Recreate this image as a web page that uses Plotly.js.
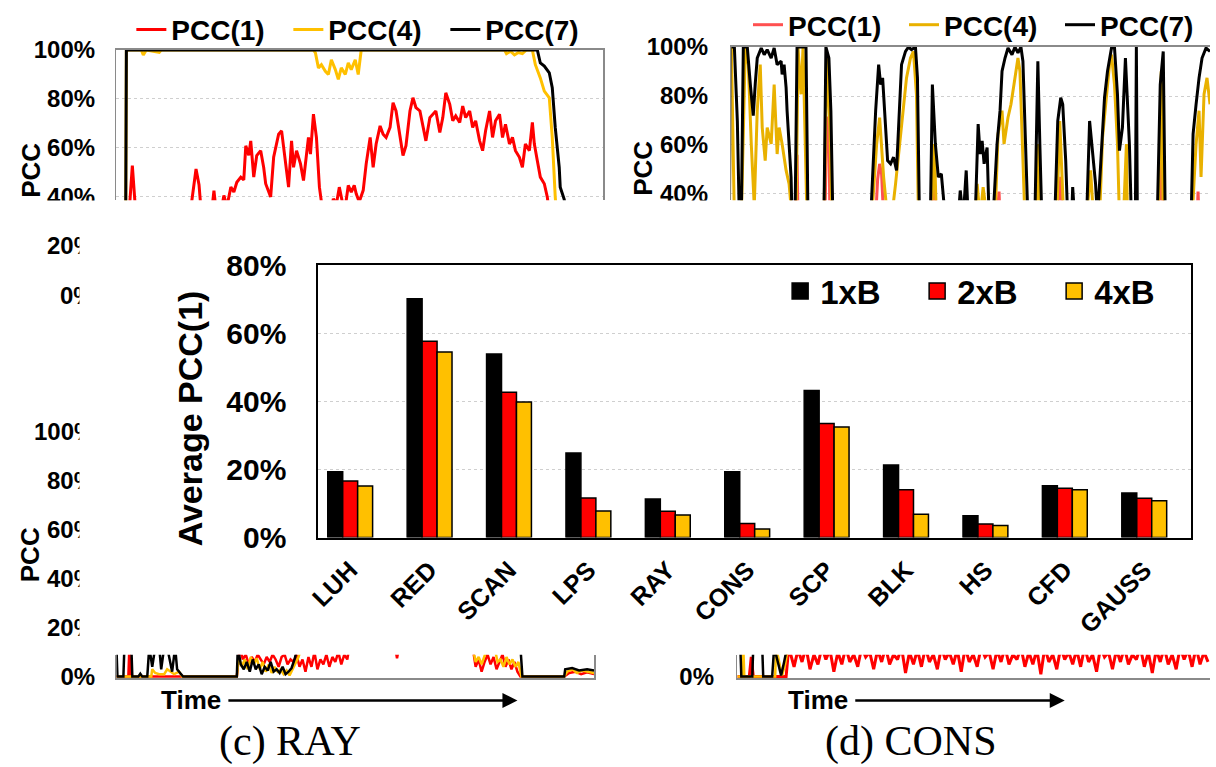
<!DOCTYPE html>
<html><head><meta charset="utf-8">
<script src="https://cdn.plot.ly/plotly-3.0.1.min.js"></script>
<style>html,body{margin:0;padding:0;background:#fff}#chart{width:1216px;height:767px}</style>
</head><body><div id="chart"></div>
<script>
// ---------- main bar chart data ----------
const categories = ['LUH','RED','SCAN','LPS','RAY','CONS','SCP','BLK','HS','CFD','GAUSS'];
const avgPcc1xB = [19.3, 70.2, 53.9, 24.8, 11.3, 19.3, 43.2, 21.3, 6.4, 15.2, 13.1];
const avgPcc2xB = [16.6, 57.7, 42.7, 11.6, 7.7, 4.1, 33.5, 14.0, 4.0, 14.5, 11.5];
const avgPcc4xB = [15.1, 54.5, 39.8, 7.8, 6.6, 2.5, 32.5, 6.8, 3.5, 14.0, 10.8];
const barSeriesNames = ['1xB','2xB','4xB'];
const lineSeriesNames = ['PCC(1)','PCC(4)','PCC(7)'];
const panelTickLabels = ['100%','80%','60%','40%','20%','0%'];

// ---------- background panel (top-left), time samples ----------
const tlTime7 = [0,9,10,423,426,430,435,438,441,445,446,450,460];
const tlPcc7  = [0,0,100,100,94.7,93.4,90.7,84.6,68.4,52.1,44,39,5];
const tlTime4 = [9,10,25,27,30,43,45,198,200,203,206,210,213,216,220,223,226,230,233,236,240,243,246,390,392,396,400,404,408,412,418,421,426,430,435,438,441,445,460];
const tlPcc4  = [0,100,100,98,100,99,100,100,98.8,92.7,94,91.3,90,96,92,88,92.7,90,94.7,92,96,90,100,100,98.5,99.5,98,99,98.5,100,100,94,88.6,83.2,80.5,64.3,40,20,0];
const tlTime1 = [0,13,16,18,20,73,80,83,85,96,98,100,106,108,111,115,118,121,125,128,130,133,135,138,141,145,148,150,155,158,163,166,170,173,176,178,181,185,188,191,193,195,198,201,204,207,216,218,221,224,227,230,233,236,239,241,244,248,251,255,258,261,265,268,271,275,278,281,285,288,291,295,298,301,305,308,311,315,318,321,325,328,331,335,338,341,345,348,351,355,358,361,365,368,371,375,378,381,385,388,391,395,398,401,405,408,411,415,418,420,423,426,430,433,436,443];
const tlPcc1  = [30,35,52.8,40,30,30,51.4,45,35,35,42.6,35,36,40.6,36,44,42,46,48.1,47,60.9,57,62.9,48.1,56.9,58.9,52,45.4,40,56.2,65.6,67,53.5,44,62.9,52.1,58.9,53.5,46.7,57.5,64.3,57.5,73.8,64.3,44,35,35,39.3,37,44,38,36,44.7,42,44.7,41.3,38,42.7,53.5,64.3,52.1,61.6,69,65.6,64.3,68.4,78.5,75.1,64.3,56.9,60.9,75.1,80.5,76.5,75.1,68.4,62.9,72.4,73.8,75.1,66.3,72.4,82.5,77.8,71.1,73.1,70.4,77.1,72.4,75.1,68.4,71.1,62.9,58.9,67,75.1,64.3,71.1,73.8,64.3,69.7,61.6,64.3,58.9,56.2,52.1,61.6,58.9,70.4,61.6,54.8,48.1,45.4,40,30,20];

// ---------- background panel (top-right) ----------
const trTime7 = [-2,-1,3,6,8,10,12,16,19,22,24,26,30,33,36,40,43,46,50,51,53,55,56,58,60,61,64,66,75,77,93,95,98,100,102,140,145,148,150,152,155,157,160,163,166,168,171,175,178,181,185,187,189,200,202,205,208,211,215,228,230,233,236,238,245,248,250,252,254,257,259,263,267,270,272,275,278,282,285,288,291,293,296,298,305,308,310,312,325,328,331,333,336,338,342,343,345,357,360,362,366,368,372,375,378,382,385,388,390,393,396,398,400,402,406,407,408,428,431,434,436,462,464,467,470,473,477,481];
const trPcc7  = [30,100,100,69.8,30,30,100,100,85,72,85,95.5,99.6,96.9,98.9,95.5,99.6,92.8,94.2,88.8,92.8,83.4,73.9,60.4,46.9,30,30,100,100,30,30,100,95.5,74,30,30,74,92.8,84.7,87.4,67.1,53.6,52.3,55,49.6,65.8,92.8,98.2,100,98.9,100,87.4,30,30,84.7,60.4,46.9,48.2,30,30,41.4,30,49.6,30,30,68.5,56.3,61.7,52.3,59,30,30,60.4,74,90.1,95.5,99.6,96.9,100,97.6,100,94.2,53.6,30,30,94.2,60.4,30,30,69.8,79.3,76.6,53.6,30,30,42.8,30,30,69.8,60.4,44.1,30,60.4,79.3,90.1,99.6,100,80.7,57.7,67.1,95.5,80.7,60.4,30,30,100,30,30,84.7,98.2,30,30,64.4,76.6,87.4,95.5,99.6,98.2];
const trTime4 = [-2,0,3,10,14,17,20,23,26,29,31,34,36,40,43,46,48,51,55,58,61,65,67,70,72,76,93,96,99,101,141,146,149,153,157,161,165,169,173,176,180,183,186,188,201,204,206,245,247,250,253,257,265,268,272,274,278,281,284,288,290,292,295,307,308,310,327,330,332,334,357,361,364,370,373,377,380,382,385,388,390,394,397,398,429,432,434,463,467,470,472,475,478,481];
const trPcc4  = [30,100,30,30,99.6,92.8,60.4,35,74,92.8,67.1,53.6,67.1,60.4,84.7,56.3,67.1,60.4,49.6,44.1,30,30,99.6,80.7,99.6,30,30,96.9,67.1,30,30,60.4,71.2,46.9,30,30,44.1,60.4,74,87.4,95.5,98.2,80.7,30,30,60.4,30,30,44.1,30,42.8,30,30,64.4,74,60.4,71.2,76.6,84.7,95.5,90.1,67.1,30,30,60.4,30,30,69.8,46.9,30,30,49.6,30,30,63,80.7,92.8,96.9,84.7,60.4,30,30,60.4,30,30,90.1,30,30,60.4,74,46.9,80.7,87.4,76.6];
const trTime1 = [64,66,67,94,96,98,99,145,147,149,151,153,202,204,206,267,269,270,329,331,332,430,432,433,434,468,469,470];
const trPcc1  = [30,56,30,30,71,71,30,30,46,52.3,48,30,30,44,30,30,41,30,30,47,30,30,57.7,50,30,30,41,30];

// ---------- bottom strip (c) RAY ----------
const rayTime7 = [0,1,7,8,15,16,22,24,26,31,33,36,39,43,45,48,51,54,56,59,61,64,67,121,122,125,128,131,134,137,140,143,146,149,152,155,158,161,164,167,170,173,176,179,182,406,408,450,451,458,465,473,480];
const rayPcc7  = [12,0,0,12,12,0,0,1.2,0,0,12,4,12,12,3,12,12,5,2,12,3,1.5,0,0,12,5,3,6,2,7,3,5,1,4,2.5,6,2,3,1.5,4,1,2,3.5,7,12,12,0,0,3,3.5,2.5,3,2.5];
const rayTime4 = [0,35,36,39,43,48,51,55,58,63,66,121,123,126,129,132,135,138,141,144,147,150,153,156,159,162,165,168,171,174,177,180,183,186,358,361,364,367,370,373,380,383,386,389,392,395,398,401,404,407,450,453,458,463,468,473,480];
const rayPcc4  = [0,0,3,1.5,1,1,3,2,1,2,0,0,8,4,7,3,8,5,7.5,3,6,2,5,1.5,4,2,3,1,2.5,0.5,3,5,8,12,12,6,8,5,7.5,12,12,6,7,4,8,5,7,4,6,0,0,2,3,1.5,2.5,2,1.5];
const rayTime1 = [0,12,13,14,121,124,127,130,133,136,139,142,145,148,151,154,157,160,163,166,169,172,175,178,181,184,187,190,193,196,199,202,205,208,211,214,217,220,223,226,229,232,234,280,282,284,358,361,364,367,370,373,376,379,382,385,388,391,394,397,400,403,406,450,455,461,467,473,480];
const rayPcc1  = [0,0,12,0,0,12,7,9,5,8,6,9,7,5,8,6,9,7,4,8,9,5,7,6,9,4,7,2,8,4,10,3,7,5,9,4,8,6,10,5,9,7,12,12,7.5,12,12,4,7,2,6,9,5,8,3,6,9,4,7,3,6,2,0,0,1.5,2,1,1.8,1];

// ---------- bottom strip (d) CONS ----------
const consTime7 = [0,3,4,15,16,25,26,35,37,41,44,47,50,475];
const consPcc7  = [12,12,0,0,12,12,0,0,12,5,0.5,6,12,12];
const consTime4 = [0,5,6,7,38,39,43,45,48,51,475];
const consPcc4  = [0,0,12,0,0,12,4,0.5,5,12,12];
const consTime1 = [0,12,14,16,49,51,53,57,61,65,69,73,77,81,85,89,93,97,101,105,109,113,117,121,125,129,133,137,141,145,149,153,157,161,165,169,173,177,181,185,189,193,197,201,205,209,213,217,221,225,229,233,237,241,245,249,253,257,261,265,269,273,277,281,285,289,293,297,301,305,309,313,317,321,325,329,333,337,341,345,349,353,357,361,365,369,373,377,381,385,389,393,397,401,405,409,413,417,421,425,429,433,437,441,445,449,453,457,461,465,469,473];
const consPcc1  = [0,0,8,0,0,9,
  10,4,11,6,12,3,9,5,12,7, 11,2,10,5,12,6,9,4,12,8, 10,3,11,6,12,5,9,7,12,1.5, 10,5,11,4,12,6,9,3,12,7,
  10,5,11,2,12,6,9,4,12,8, 10,3,11,6,12,5,9,7,12,4, 10,5,11,1,12,6,9,3,12,7, 10,5,11,4,12,6,9,2,12,8,
  10,3,11,6,12,5,9,7,12,4, 10,1.5,11,6,12,5,9,3,12,7, 11,4,12,5,10,6];

// ---------- styling ----------
const W = 1216, H = 767;
const fx = p => p / W;
const fy = p => 1 - p / H;
const SANS = 'Liberation Sans, Arial, sans-serif';
const SERIF = 'Liberation Serif, Times New Roman, serif';
const bold = (size) => ({family: SANS, size: size, color: '#000', weight: 'bold'});
const RED = '#ff0000', GOLD = '#ffc000', BLACK = '#000000';
const RED_B = '#ff5050', GOLD_B = '#e9b100';

const traces = [];
function lineTrace(x, y, color, width, xa, ya, name, legend, show) {
  return {type: 'scatter', mode: 'lines', x: x, y: y, xaxis: xa, yaxis: ya,
    name: name, legend: legend, showlegend: show, hoverinfo: 'skip',
    line: {color: color, width: width}};
}
// top-left panel
traces.push(lineTrace(tlTime1, tlPcc1, RED, 3, 'x2', 'y2', lineSeriesNames[0], 'legend2', true));
traces.push(lineTrace(tlTime4, tlPcc4, GOLD, 3, 'x2', 'y2', lineSeriesNames[1], 'legend2', true));
traces.push(lineTrace(tlTime7, tlPcc7, BLACK, 3, 'x2', 'y2', lineSeriesNames[2], 'legend2', true));
// top-right panel
traces.push(lineTrace(trTime1, trPcc1, RED_B, 3, 'x3', 'y3', lineSeriesNames[0], 'legend3', true));
traces.push(lineTrace(trTime4, trPcc4, GOLD_B, 3, 'x3', 'y3', lineSeriesNames[1], 'legend3', true));
traces.push(lineTrace(trTime7, trPcc7, BLACK, 3, 'x3', 'y3', lineSeriesNames[2], 'legend3', true));
// strip (c)
traces.push(lineTrace(rayTime1, rayPcc1, RED, 2.5, 'x4', 'y4', lineSeriesNames[0], 'legend2', false));
traces.push(lineTrace(rayTime4, rayPcc4, GOLD, 2.5, 'x4', 'y4', lineSeriesNames[1], 'legend2', false));
traces.push(lineTrace(rayTime7, rayPcc7, BLACK, 2.5, 'x4', 'y4', lineSeriesNames[2], 'legend2', false));
// strip (d)
traces.push(lineTrace(consTime1, consPcc1, RED, 3, 'x5', 'y5', lineSeriesNames[0], 'legend2', false));
traces.push(lineTrace(consTime4, consPcc4, GOLD, 2.5, 'x5', 'y5', lineSeriesNames[1], 'legend2', false));
traces.push(lineTrace(consTime7, consPcc7, BLACK, 2.5, 'x5', 'y5', lineSeriesNames[2], 'legend2', false));

// main bars
const barValues = [avgPcc1xB, avgPcc2xB, avgPcc4xB];
const barColors = [BLACK, RED, GOLD];
barValues.forEach((vals, i) => {
  traces.push({type: 'bar', x: categories, y: vals, name: barSeriesNames[i],
    xaxis: 'x', yaxis: 'y', showlegend: false, hoverinfo: 'skip',
    marker: {color: barColors[i], line: {color: '#000', width: 1.5}}});
});
// legend entries for the bars (bigger squares)
barSeriesNames.forEach((n, i) => {
  traces.push({type: 'scatter', mode: 'markers', x: [null], y: [null], name: n,
    xaxis: 'x', yaxis: 'y', legend: 'legend', showlegend: true, hoverinfo: 'skip',
    marker: {symbol: 'square', size: 16, color: barColors[i], line: {color: '#000', width: 1.5}}});
});

const GRID = '#cfcfcf', FRAME = '#8a8a8a';
const annotations = [];
function txt(text, xp, yp, size, opts) {
  annotations.push(Object.assign({text: text, x: fx(xp), y: fy(yp), xref: 'paper', yref: 'paper',
    showarrow: false, font: bold(size), xanchor: 'center', yanchor: 'middle'}, opts || {}));
}
// main chart y title
txt('Average PCC(1)', 191, 416, 34, {textangle: -90});
// y titles of background panels
txt('PCC', 31, 166, 26, {textangle: -90});
txt('PCC', 646, 164, 26, {textangle: -90});
txt('PCC', 31, 553, 26, {textangle: -90});
// partially hidden tick labels (left side)
txt(panelTickLabels[4], 97, 242, 24, {xanchor: 'right'});
txt(panelTickLabels[5], 97, 292, 24, {xanchor: 'right'});
[429.5, 478.8, 528.1, 577.4, 626.7].forEach((yp, i) => txt(panelTickLabels[i], 97, yp, 24, {xanchor: 'right'}));
// white covers (the pasted bar chart hides these)
function cover(x0, y0, x1, y1) {
  annotations.push({text: ' ', x: fx(x0), y: fy(y0), xref: 'paper', yref: 'paper', xanchor: 'left', yanchor: 'top',
    width: x1 - x0, height: y1 - y0, bgcolor: '#ffffff', borderpad: 0, showarrow: false, font: {size: 2}});
}
cover(40, 196.5, 112, 216);
cover(79, 216, 112, 652);
cover(640, 196.5, 730, 214);
// time arrows
txt('Time', 160, 700, 26, {xanchor: 'left'});
txt('Time', 790, 700, 26, {xanchor: 'left'});
function arrow(x0, x1, yp) {
  annotations.push({text: '', x: fx(x1), y: fy(yp), ax: fx(x0), ay: fy(yp), xref: 'paper', yref: 'paper',
    axref: 'paper', ayref: 'paper', showarrow: true, arrowhead: 2, arrowsize: 1.2, arrowwidth: 2.5, arrowcolor: '#000'});
}
arrow(228, 520, 700);
arrow(858, 1070, 700);
// captions
annotations.push({text: '(c) RAY', x: fx(291), y: fy(741), xref: 'paper', yref: 'paper', showarrow: false,
  xanchor: 'center', yanchor: 'middle', font: {family: SERIF, size: 42, color: '#000'}});
annotations.push({text: '(d) CONS', x: fx(916), y: fy(741), xref: 'paper', yref: 'paper', showarrow: false,
  xanchor: 'center', yanchor: 'middle', font: {family: SERIF, size: 42, color: '#000'}});

const layout = {
  width: W, height: H, margin: {l: 0, r: 0, t: 0, b: 0},
  paper_bgcolor: '#ffffff', plot_bgcolor: 'rgba(0,0,0,0)',
  barmode: 'group', bargap: 0.435, bargroupgap: 0,
  font: {family: SANS, color: '#000'},
  xaxis: {domain: [fx(320), fx(1197)], anchor: 'y', type: 'category', range: [-0.4, 10.59],
    showline: true, mirror: true, linecolor: '#000', linewidth: 2, ticks: '', showgrid: false,
    tickangle: -45, tickfont: bold(25), ticklabelstandoff: 6},
  yaxis: {domain: [fy(536), fy(262)], anchor: 'x', range: [0, 80], dtick: 20, ticksuffix: '%',
    showline: true, mirror: true, linecolor: '#000', linewidth: 2, ticks: '', zeroline: false,
    gridcolor: GRID, griddash: 'dot', gridwidth: 1.3, tickfont: bold(30), ticklabelstandoff: 24},
  xaxis2: {domain: [fx(117), fx(606)], anchor: 'y2', range: [0, 489], side: 'top', showline: true,
    linecolor: FRAME, linewidth: 2, showticklabels: false, ticks: '', showgrid: false, zeroline: false},
  yaxis2: {domain: [fy(196.5), fy(45.3)], anchor: 'x2', range: [38.66, 100], dtick: 20, tick0: 0, ticksuffix: '%',
    showline: true, mirror: true, linecolor: FRAME, linewidth: 1.5, ticks: '', zeroline: false,
    gridcolor: GRID, griddash: 'dot', tickfont: bold(24), ticklabelstandoff: 15},
  xaxis3: {domain: [fx(735), 1], anchor: 'y3', range: [0, 481], side: 'top', showline: true,
    linecolor: FRAME, linewidth: 2, showticklabels: false, ticks: '', showgrid: false, zeroline: false},
  yaxis3: {domain: [fy(196.5), fy(42.3)], anchor: 'x3', range: [37.44, 100], dtick: 20, tick0: 0, ticksuffix: '%',
    showline: true, linecolor: FRAME, linewidth: 1.5, ticks: '', zeroline: false,
    gridcolor: GRID, griddash: 'dot', tickfont: bold(24), ticklabelstandoff: 17},
  xaxis4: {domain: [fx(117), fx(597)], anchor: 'y4', range: [0, 480], showline: true,
    linecolor: FRAME, linewidth: 2, showticklabels: false, ticks: '', showgrid: false, zeroline: false},
  yaxis4: {domain: [fy(677.5), fy(654)], anchor: 'x4', range: [-0.6, 8.93], tickvals: [0], ticktext: [panelTickLabels[5]],
    showline: true, mirror: true, linecolor: FRAME, linewidth: 1.5, ticks: '', zeroline: false, showgrid: false,
    tickfont: bold(24), ticklabelstandoff: 15},
  xaxis5: {domain: [fx(741), 1], anchor: 'y5', range: [0, 475], showline: true,
    linecolor: FRAME, linewidth: 2, showticklabels: false, ticks: '', showgrid: false, zeroline: false},
  yaxis5: {domain: [fy(677.5), fy(654)], anchor: 'x5', range: [-0.6, 8.93], tickvals: [0], ticktext: [panelTickLabels[5]],
    showline: true, linecolor: FRAME, linewidth: 1.5, ticks: '', zeroline: false, showgrid: false,
    tickfont: bold(24), ticklabelstandoff: 17},
  legend: {x: fx(784), y: fy(288), xanchor: 'left', yanchor: 'middle', orientation: 'h',
    font: bold(33), bgcolor: 'rgba(0,0,0,0)', entrywidth: 92, entrywidthmode: 'pixels', traceorder: 'normal'},
  legend2: {x: fx(132), y: fy(25), xanchor: 'left', yanchor: 'middle', orientation: 'h',
    font: bold(28), bgcolor: 'rgba(0,0,0,0)', entrywidth: 112, entrywidthmode: 'pixels', traceorder: 'normal'},
  legend3: {x: fx(752), y: fy(20), xanchor: 'left', yanchor: 'middle', orientation: 'h',
    font: bold(28), bgcolor: 'rgba(0,0,0,0)', entrywidth: 111, entrywidthmode: 'pixels', traceorder: 'normal'},
  annotations: annotations
};

Plotly.newPlot('chart', traces, layout, {displayModeBar: false, staticPlot: true});
</script>
</body></html>
